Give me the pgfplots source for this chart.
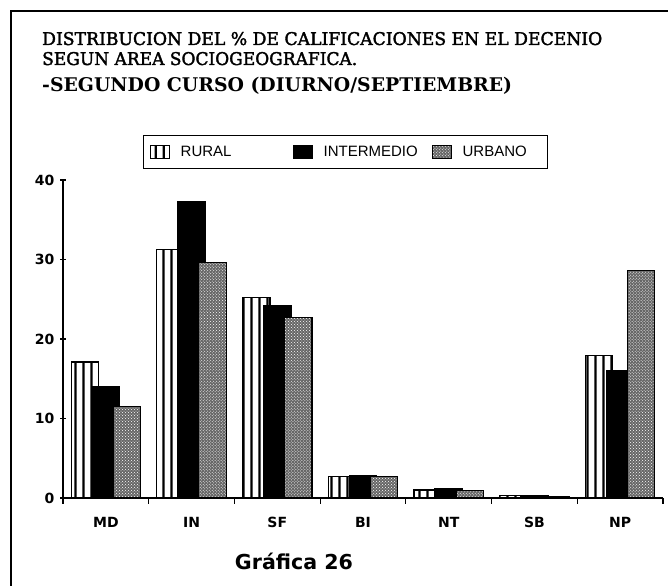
\documentclass[border=0pt]{standalone}
\usepackage{fontspec}
\setmainfont{DejaVu Sans}
\newfontfamily\titlefont{DejaVu Serif}
\newfontfamily\titlefontm[FakeBold=2]{DejaVu Serif}
\newfontfamily\legfont{Liberation Sans}
\usepackage{graphicx}
\usepackage{pgfplots}
\pgfplotsset{compat=1.18}
\usetikzlibrary{patterns,patterns.meta}

\tikzdeclarepattern{
  name=vstripes,
  type=uncolored,
  bounding box={(0bp,0bp) and (8bp,8bp)},
  tile size={(8bp,8bp)},
  code={\draw[line width=2.4bp] (4bp,-1bp) -- (4bp,9bp);}
}

\pgfplotstableread{
x  rural inter urban
0  17.1  14.0  11.5
1  31.3  37.3  29.6
2  25.2  24.2  22.7
3  2.7   2.8   2.7
4  1.0   1.2   0.9
5  0.3   0.3   0.2
6  17.9  16.0  28.6
}\datatab

\begin{document}
\begin{tikzpicture}
\path[use as bounding box] (0,0) rectangle (668bp,586bp);
% frame
\draw[line width=1.8bp] (11bp,0bp) -- (11bp,575bp) -- (668bp,575bp);
\begin{axis}[
  at={(63bp,88bp)}, anchor=south west,
  scale only axis, width=600bp, height=318bp,
  xmin=-0.5, xmax=6.5, ymin=0, ymax=40,
  axis x line=bottom, axis y line=left,
  axis line style={-, line width=1.4bp},
  xtick={-0.5,0.5,...,6.5}, xticklabels={},
  extra x ticks={0,1,2,3,4,5,6},
  extra x tick labels={MD,IN,SF,BI,NT,SB,NP},
  extra x tick style={major tick length=0pt, tick label style={yshift=-16bp}},
  ytick={0,10,20,30,40},
  tick align=center, major tick length=6bp,
  tick style={line width=1.2bp, black},
  /pgf/number format/assume math mode=true,
  tick label style={font=\fontsize{14bp}{16bp}\selectfont\bfseries},
  yticklabel style={xshift=-2bp},
  ybar, bar width=0.32,
  legend style={at={(0.1333,1.1415)}, anchor=north west, draw=black,
    line width=1.4bp, inner xsep=6bp, inner ysep=8.5bp,
    font=\legfont\fontsize{15bp}{17bp}\selectfont, legend columns=3,
    /tikz/every odd column/.append style={column sep=9bp}},
  legend image code/.code={\draw[#1, line width=1bp] (0bp,-6.5bp) rectangle (19bp,6.5bp);},
  clip=false,
]
\addplot[draw=black, line width=1.2bp, fill=white, postaction={pattern=vstripes, pattern color=black}, bar shift=-0.245] table[x=x,y=rural] {\datatab};
\addlegendentry{\makebox[110bp][l]{RURAL}}
\addplot[draw=black, line width=1.2bp, fill=black, bar shift=0] table[x=x,y=inter] {\datatab};
\addlegendentry{\makebox[106bp][l]{INTERMEDIO}}
\addplot[draw=black, line width=1.2bp, fill=black!60, postaction={pattern=crosshatch dots, pattern color=white}, bar shift=0.245] table[x=x,y=urban] {\datatab};
\addlegendentry{\makebox[77bp][l]{URBANO}}
\end{axis}
% titles
\node[anchor=base west, inner sep=0] at (42bp,541bp) {\resizebox{560bp}{13bp}{\titlefontm DISTRIBUCION DEL \% DE CALIFICACIONES EN EL DECENIO}};
\node[anchor=base west, inner sep=0] at (42bp,521bp) {\resizebox{315bp}{13bp}{\titlefontm SEGUN AREA SOCIOGEOGRAFICA.}};
\node[anchor=base west, inner sep=0] at (42bp,494bp) {\resizebox{470bp}{!}{\titlefont\bfseries -SEGUNDO CURSO (DIURNO/SEPTIEMBRE)}};
\node[anchor=base, inner sep=0] at (294bp,16bp) {\resizebox{118bp}{!}{\bfseries Gr\'afica 26}};
\end{tikzpicture}
\end{document}
